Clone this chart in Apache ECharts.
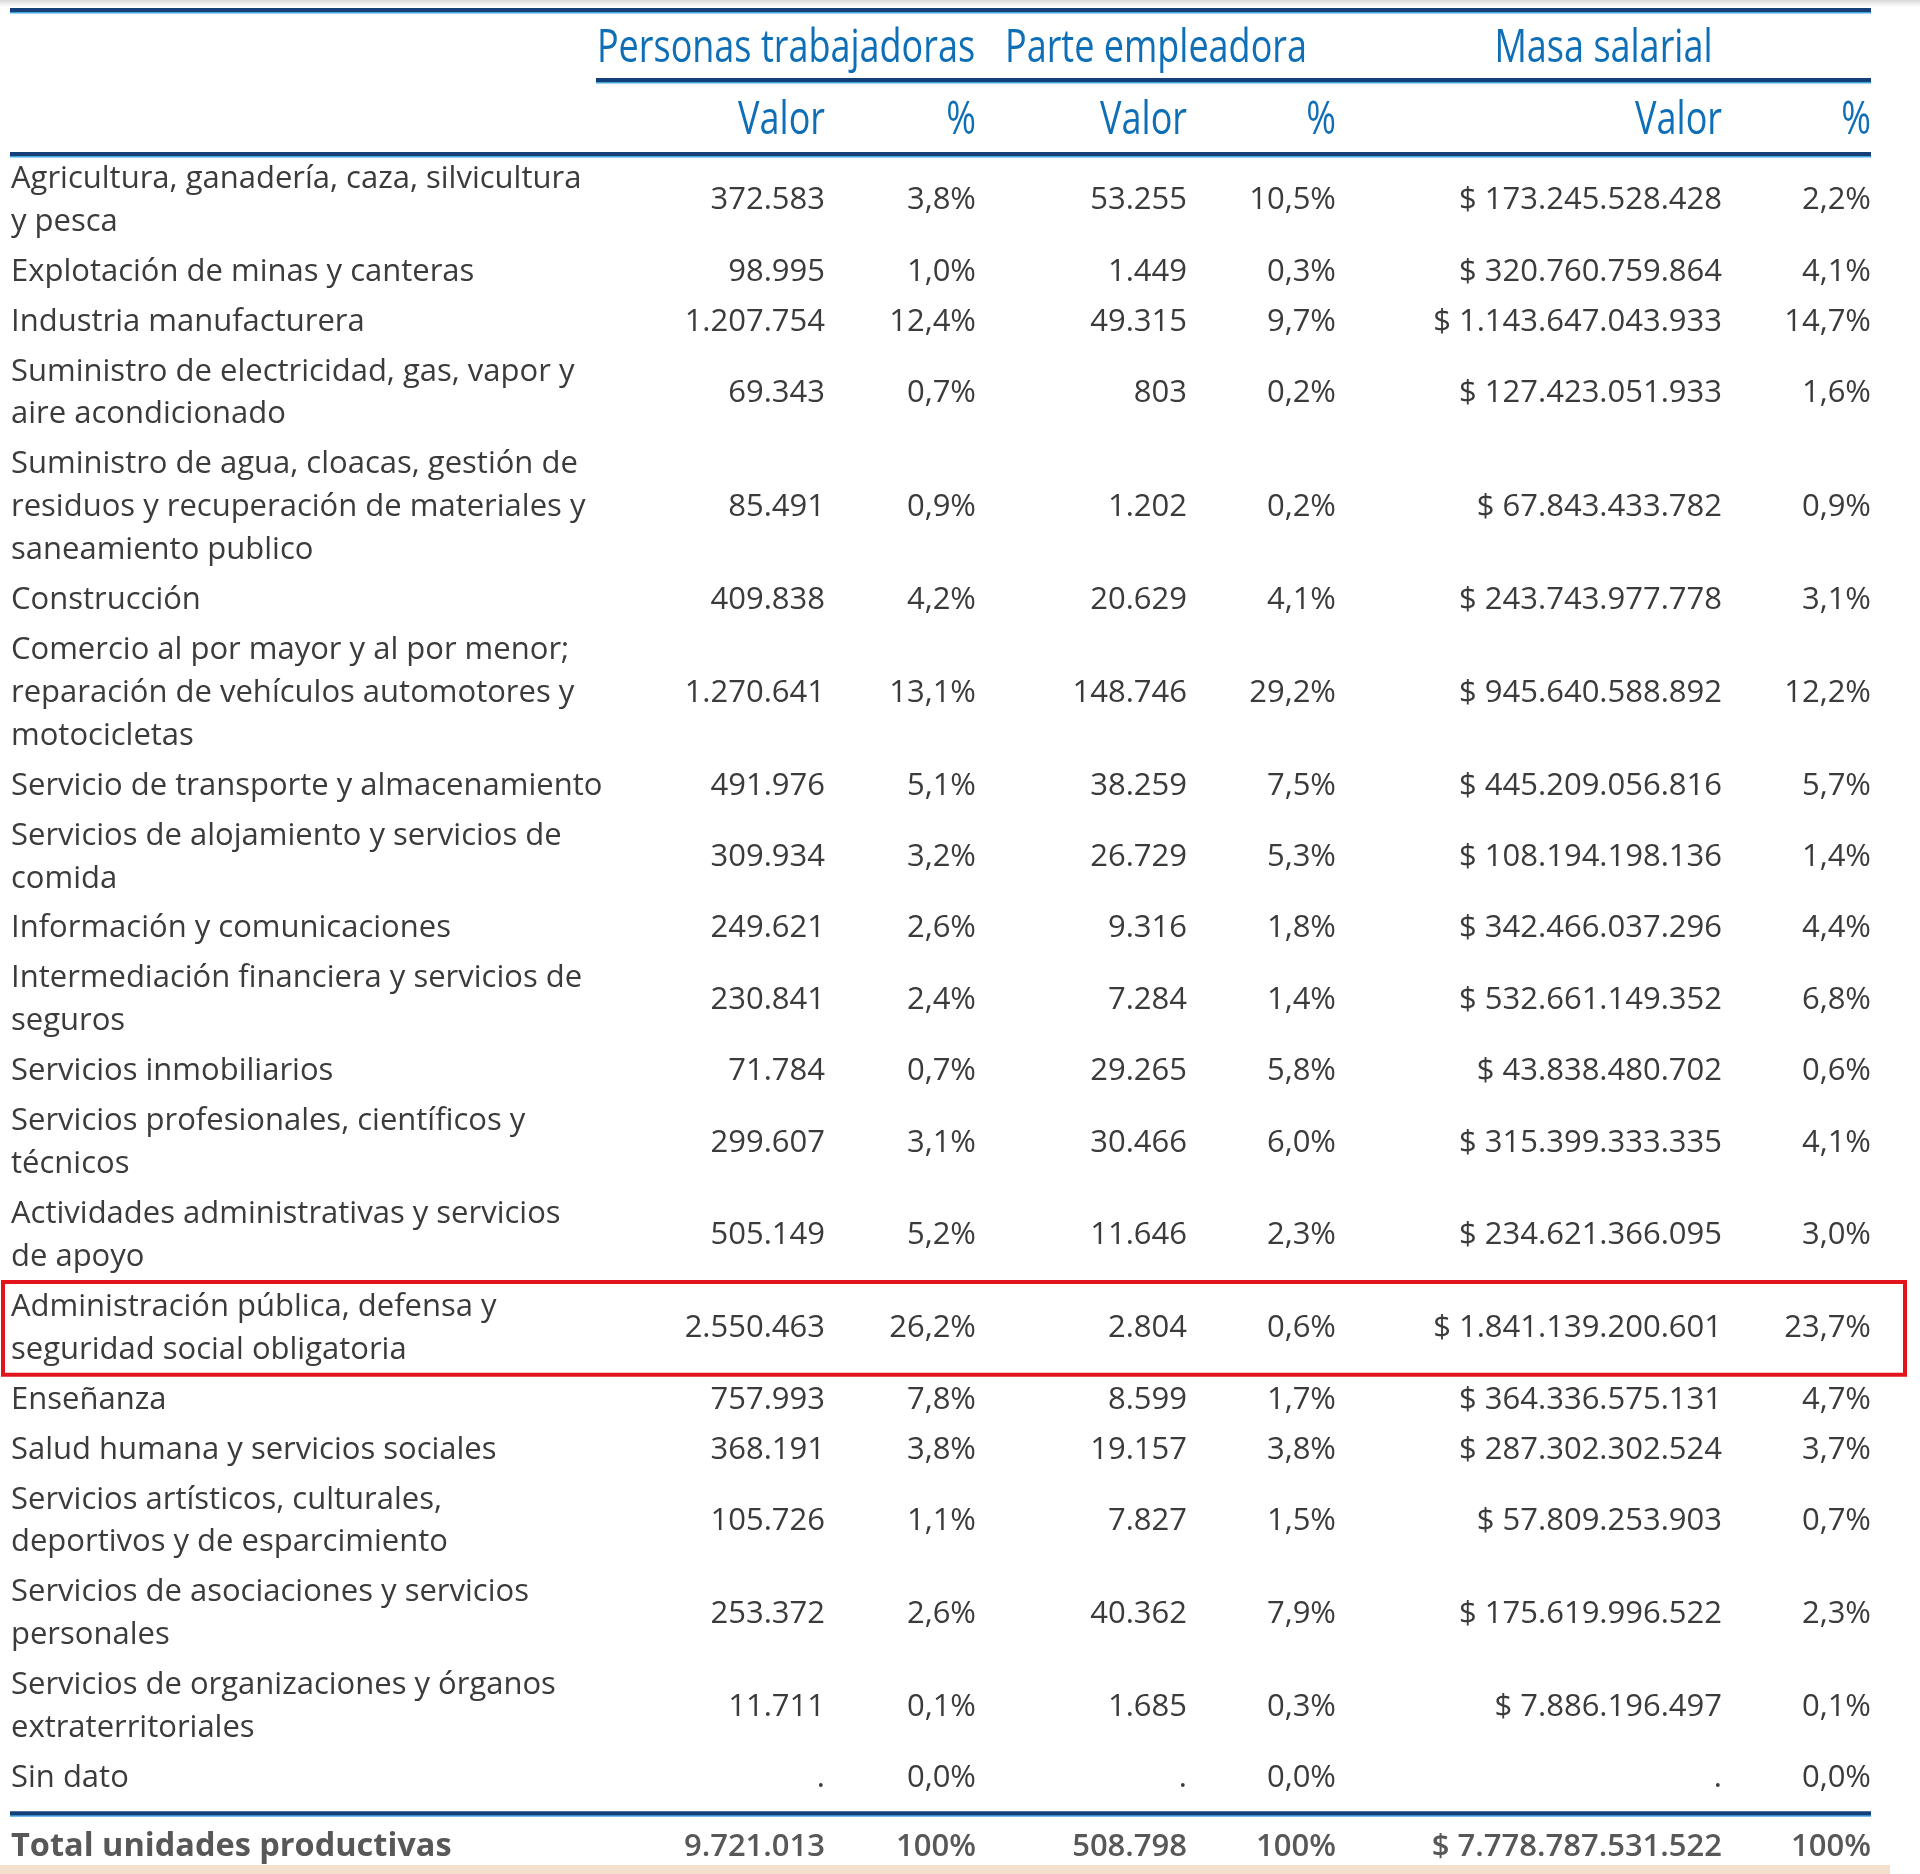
<!DOCTYPE html>
<html>
<head>
<meta charset="utf-8">
<script src="https://cdn.jsdelivr.net/npm/echarts@6/dist/echarts.min.js"></script>
<style>
html,body{margin:0;padding:0;background:#ffffff;}
#chart{width:1920px;height:1874px;}
</style>
</head>
<body>
<div id="chart"></div>
<script>
// ---------------- DATA ----------------
const groupHeaders = ['Personas trabajadoras', 'Parte empleadora', 'Masa salarial'];
const subHeaders = ['Valor', '%', 'Valor', '%', 'Valor', '%'];
const sectors = [
  'Agricultura, ganadería, caza, silvicultura\ny pesca',
  'Explotación de minas y canteras',
  'Industria manufacturera',
  'Suministro de electricidad, gas, vapor y\naire acondicionado',
  'Suministro de agua, cloacas, gestión de\nresiduos y recuperación de materiales y\nsaneamiento publico',
  'Construcción',
  'Comercio al por mayor y al por menor;\nreparación de vehículos automotores y\nmotocicletas',
  'Servicio de transporte y almacenamiento',
  'Servicios de alojamiento y servicios de\ncomida',
  'Información y comunicaciones',
  'Intermediación financiera y servicios de\nseguros',
  'Servicios inmobiliarios',
  'Servicios profesionales, científicos y\ntécnicos',
  'Actividades administrativas y servicios\nde apoyo',
  'Administración pública, defensa y\nseguridad social obligatoria',
  'Enseñanza',
  'Salud humana y servicios sociales',
  'Servicios artísticos, culturales,\ndeportivos y de esparcimiento',
  'Servicios de asociaciones y servicios\npersonales',
  'Servicios de organizaciones y órganos\nextraterritoriales',
  'Sin dato'
];
const workers = [372583, 98995, 1207754, 69343, 85491, 409838, 1270641, 491976, 309934, 249621, 230841, 71784, 299607, 505149, 2550463, 757993, 368191, 105726, 253372, 11711, null];
const workersPct = [3.8, 1.0, 12.4, 0.7, 0.9, 4.2, 13.1, 5.1, 3.2, 2.6, 2.4, 0.7, 3.1, 5.2, 26.2, 7.8, 3.8, 1.1, 2.6, 0.1, 0.0];
const employers = [53255, 1449, 49315, 803, 1202, 20629, 148746, 38259, 26729, 9316, 7284, 29265, 30466, 11646, 2804, 8599, 19157, 7827, 40362, 1685, null];
const employersPct = [10.5, 0.3, 9.7, 0.2, 0.2, 4.1, 29.2, 7.5, 5.3, 1.8, 1.4, 5.8, 6.0, 2.3, 0.6, 1.7, 3.8, 1.5, 7.9, 0.3, 0.0];
const wages = [173245528428, 320760759864, 1143647043933, 127423051933, 67843433782, 243743977778, 945640588892, 445209056816, 108194198136, 342466037296, 532661149352, 43838480702, 315399333335, 234621366095, 1841139200601, 364336575131, 287302302524, 57809253903, 175619996522, 7886196497, null];
const wagesPct = [2.2, 4.1, 14.7, 1.6, 0.9, 3.1, 12.2, 5.7, 1.4, 4.4, 6.8, 0.6, 4.1, 3.0, 23.7, 4.7, 3.7, 0.7, 2.3, 0.1, 0.0];
const totalLabel = 'Total unidades productivas';
const totalWorkers = 9721013, totalWorkersPct = 100;
const totalEmployers = 508798, totalEmployersPct = 100;
const totalWages = 7778787531522, totalWagesPct = 100;
const highlightedSector = 'Administración pública, defensa y\nseguridad social obligatoria';

// ---------------- LAYOUT / STYLE ----------------
const L = {
  width: 1920, height: 1874,
  ruleLeft: 10, ruleRight: 1871, groupRuleLeft: 596,
  topRuleY: 10, groupRuleY: 80, subRuleY: 154,
  groupY: 49, subY: 121.5,
  groupSpans: [[596, 976], [976, 1336], [1336, 1871]],
  labelX: 11,
  colRight: [825, 976, 1187, 1336, 1722, 1871],
  lineH: 42.86, rowGap: 7.1,
  bottomPad: 10, totalOffset: 34,
  boxLeft: 3, boxRight: 1905
};
const BODY_COLOR = '#3b3b3b';
const BODY_FONT = "31px 'Open Sans'";
const TOTAL_LABEL_FONT = "bold 32.5px 'Open Sans'";
const TOTAL_NUM_FONT = "600 31px 'Open Sans'";
const TOTAL_COLOR = '#585858';
const HEAD_COLOR = '#0f6fb6';
const HEAD_FONT = "45px 'Open Sans'";
const HEAD_SCALE = 0.8;
const RULE_COLOR = '#143f78';
const RULE_EDGE = '#45a6dc';

// ---------------- HELPERS ----------------
function fmtInt(n) { return n === null ? '.' : String(n).replace(/\B(?=(\d{3})+(?!\d))/g, '.'); }
function fmtPct(p) { return p.toFixed(1).replace('.', ',') + '%'; }
function fmtPctInt(p) { return p.toFixed(0) + '%'; }
function fmtMoney(n) { return n === null ? '.' : '$ ' + fmtInt(n); }

// row geometry derived from label line counts
const rowTop = [L.subRuleY];
sectors.forEach((s, i) => {
  const lines = s.split('\n').length;
  rowTop.push(rowTop[i] + lines * L.lineH + L.rowGap);
});
const bottomRuleY = rowTop[sectors.length] + L.bottomPad;
const totalY = bottomRuleY + L.totalOffset;
const highlightIndex = sectors.indexOf(highlightedSector);

function rule(api, x1, x2, y, lw) {
  const a = api.coord([x1, y]), b = api.coord([x2, y]);
  return [
    {type: 'line', shape: {x1: a[0], y1: a[1] + lw / 2 + 0.5, x2: b[0], y2: b[1] + lw / 2 + 0.5}, style: {stroke: RULE_EDGE, lineWidth: 2}},
    {type: 'line', shape: {x1: a[0], y1: a[1], x2: b[0], y2: b[1]}, style: {stroke: RULE_COLOR, lineWidth: lw}}
  ];
}
function cellText(api, x, y, text, font, fill, align) {
  const p = api.coord([x, y]);
  return {type: 'text', x: p[0], y: p[1], style: {text: text, font: font, fill: fill, align: align, verticalAlign: 'middle', lineHeight: L.lineH}};
}

function renderFrame(params, api) {
  const ch = [];
  ch.push(...rule(api, L.ruleLeft, L.ruleRight, L.topRuleY, 4));
  ch.push(...rule(api, L.groupRuleLeft, L.ruleRight, L.groupRuleY, 4));
  ch.push(...rule(api, L.ruleLeft, L.ruleRight, L.subRuleY, 4));
  ch.push(...rule(api, L.ruleLeft, L.ruleRight, bottomRuleY, 4));
  groupHeaders.forEach((g, k) => {
    const cx = (L.groupSpans[k][0] + L.groupSpans[k][1]) / 2;
    const p = api.coord([cx, L.groupY]);
    ch.push({type: 'text', x: p[0], y: p[1], scaleX: HEAD_SCALE, style: {text: g, font: HEAD_FONT, fill: HEAD_COLOR, align: 'center', verticalAlign: 'middle'}});
  });
  subHeaders.forEach((s, k) => {
    const p = api.coord([L.colRight[k], L.subY]);
    ch.push({type: 'text', x: p[0], y: p[1], scaleX: HEAD_SCALE, style: {text: s, font: HEAD_FONT, fill: HEAD_COLOR, align: 'right', verticalAlign: 'middle'}});
  });
  // total row
  ch.push(cellText(api, L.labelX, totalY, totalLabel, TOTAL_LABEL_FONT, TOTAL_COLOR, 'left'));
  const tv = [fmtInt(totalWorkers), fmtPctInt(totalWorkersPct), fmtInt(totalEmployers), fmtPctInt(totalEmployersPct), fmtMoney(totalWages), fmtPctInt(totalWagesPct)];
  tv.forEach((t, c) => ch.push(cellText(api, L.colRight[c], totalY, t, TOTAL_NUM_FONT, TOTAL_COLOR, 'right')));
  return {type: 'group', children: ch};
}

function renderRow(params, api) {
  const i = api.value(0);
  const top = rowTop[i], bot = rowTop[i + 1], cy = (top + bot) / 2;
  const ch = [];
  ch.push(cellText(api, L.labelX, cy, sectors[i], BODY_FONT, BODY_COLOR, 'left'));
  const cells = [fmtInt(workers[i]), fmtPct(workersPct[i]), fmtInt(employers[i]), fmtPct(employersPct[i]), fmtMoney(wages[i]), fmtPct(wagesPct[i])];
  cells.forEach((t, c) => ch.push(cellText(api, L.colRight[c], cy, t, BODY_FONT, BODY_COLOR, 'right')));
  if (i === highlightIndex) {
    const a = api.coord([L.boxLeft, top]), b = api.coord([L.boxRight, bot]);
    ch.push({type: 'rect', shape: {x: a[0], y: a[1], width: b[0] - a[0], height: b[1] - a[1]}, style: {fill: 'none', stroke: '#e3131b', lineWidth: 4}});
  }
  return {type: 'group', children: ch};
}

const chart = echarts.init(document.getElementById('chart'), null, {renderer: 'canvas'});
chart.setOption({
  backgroundColor: '#ffffff',
  animation: false,
  grid: {left: 0, right: 0, top: 0, bottom: 0},
  xAxis: {type: 'value', min: 0, max: L.width, show: false},
  yAxis: {type: 'value', min: 0, max: L.height, inverse: true, show: false},
  graphic: [
    {type: 'rect', left: 0, top: 0, shape: {width: 1920, height: 7}, style: {fill: new echarts.graphic.LinearGradient(0, 0, 0, 1, [{offset: 0, color: '#d8d8d8'}, {offset: 1, color: '#ffffff'}])}, z: -10},
    {type: 'rect', left: 0, top: 1865, shape: {width: 1890, height: 9}, style: {fill: '#f4e0cd'}, z: -10}
  ],
  series: [
    {type: 'custom', renderItem: renderFrame, data: [[0]], clip: false, silent: true},
    {type: 'custom', renderItem: renderRow, data: sectors.map((s, i) => [i]), clip: false, silent: true}
  ]
});
</script>
</body>
</html>
